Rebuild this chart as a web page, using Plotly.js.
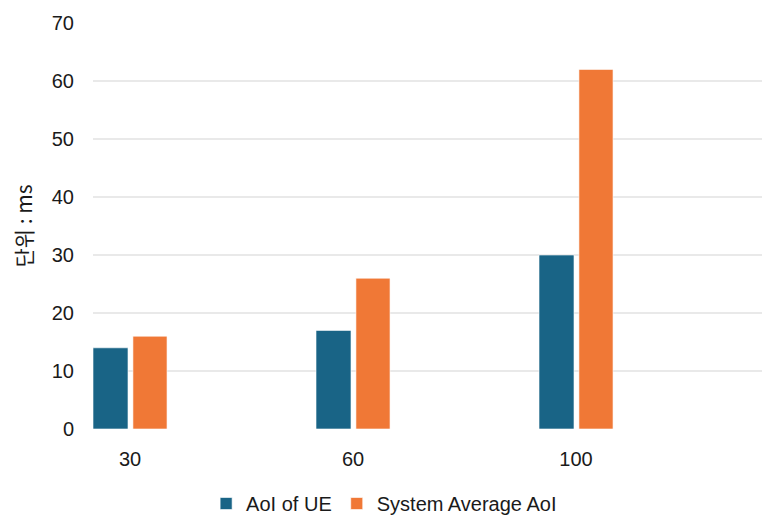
<!DOCTYPE html>
<html>
<head>
<meta charset="utf-8">
<script src="https://cdn.plot.ly/plotly-3.0.1.min.js"></script>
<style>html,body{margin:0;padding:0;background:#fff;}#chart{width:776px;height:523px;}</style>
</head>
<body>
<div id="chart"></div>
<script>
const categories = ['30', '60', '100'];
const aoiOfUE = [14, 17, 30];
const systemAverageAoI = [16, 26, 62];
const seriesNames = ['AoI of UE', 'System Average AoI'];
const yTitle = '단위 : ms';

const font = 'Liberation Sans, Arial, sans-serif';

const traces = [
  {
    type: 'bar', x: categories, y: aoiOfUE, name: seriesNames[0],
    marker: {color: '#196486', line: {color: '#ffffff', width: 0.6}},
    offset: -0.166, width: 0.157, hoverinfo: 'x+y'
  },
  {
    type: 'bar', x: categories, y: systemAverageAoI, name: seriesNames[1],
    marker: {color: '#f07836', line: {color: '#ffffff', width: 0.6}},
    offset: 0.013, width: 0.153, hoverinfo: 'x+y'
  }
];

const layout = {
  width: 776, height: 523,
  margin: {l: 93, r: 14, t: 23, b: 94},
  paper_bgcolor: '#ffffff', plot_bgcolor: '#ffffff',
  font: {family: font, size: 20, color: '#1a1a1a'},
  barmode: 'overlay',
  showlegend: true,
  legend: {
    orientation: 'h', x: 0.495, xref: 'container', xanchor: 'center',
    y: 21, yref: 'container', yanchor: 'middle',
    font: {family: font, size: 20, color: '#1a1a1a'},
    itemwidth: 30, tracegroupgap: 0, traceorder: 'normal'
  },
  xaxis: {
    type: 'category', range: [-0.166, 2.834],
    showgrid: false, zeroline: false, showline: false,
    ticks: '', ticklabelstandoff: 16,
    tickfont: {family: font, size: 20, color: '#1a1a1a'},
    fixedrange: true
  },
  yaxis: {
    range: [0, 70], dtick: 10, tick0: 0,
    showgrid: true, gridcolor: '#e9e9e9', gridwidth: 1.5,
    zeroline: false, showline: false, ticks: '',
    ticklabelstandoff: 18,
    tickfont: {family: font, size: 20, color: '#1a1a1a'},
    title: {text: yTitle, font: {family: 'Noto Sans CJK KR, ' + font, size: 21, color: '#1a1a1a'}, standoff: 13},
    fixedrange: true
  }
};

Plotly.newPlot('chart', traces, layout, {displayModeBar: false, staticPlot: true});
</script>
</body>
</html>
